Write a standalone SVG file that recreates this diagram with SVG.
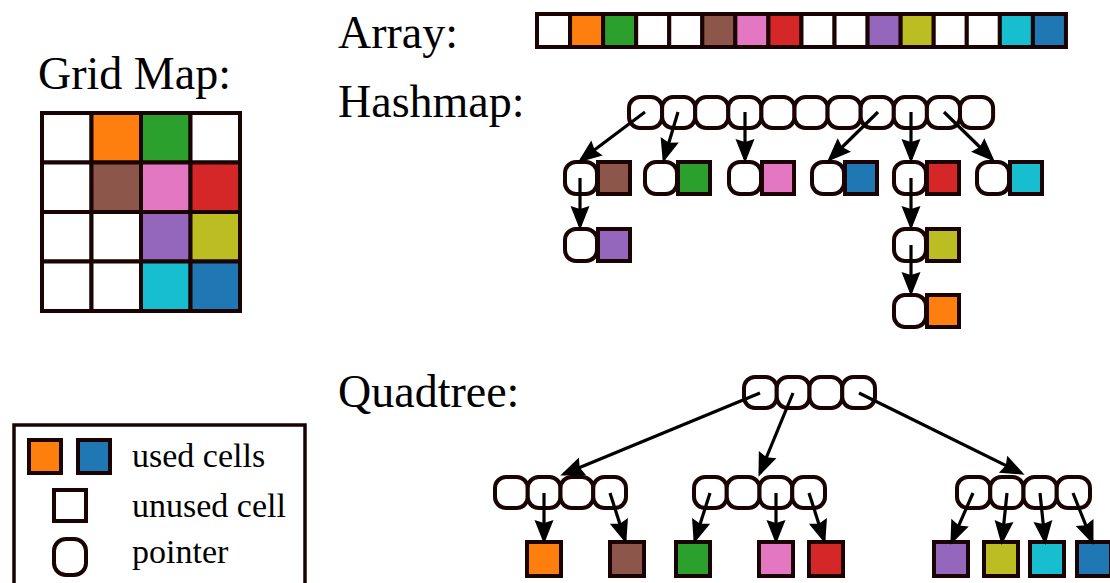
<svg xmlns="http://www.w3.org/2000/svg" width="1110" height="583" viewBox="0 0 1110 583">
<style>
.t{font-family:"Liberation Serif","Times New Roman",serif;font-size:46px;fill:#000}
.l{font-family:"Liberation Serif","Times New Roman",serif;font-size:34px;fill:#000}
.c{stroke:#1a0303;stroke-width:4;fill:#fff}
.p{stroke:#1a0303;stroke-width:4;fill:#fff}
.W{fill:#fff}.O{fill:#ff7f0e}.G{fill:#2ca02c}.B{fill:#8c564b}.P{fill:#e377c2}.R{fill:#d62728}.V{fill:#9467bd}.Y{fill:#bcbd22}.C{fill:#17becf}.U{fill:#1f77b4}
.a{stroke:#000;stroke-width:3.2;fill:none}
</style>
<defs>
<marker id="ah" markerUnits="userSpaceOnUse" markerWidth="24" markerHeight="20" viewBox="0 0 24 20" refX="20" refY="10" orient="auto" overflow="visible">
<path d="M24 10 L0 0.5 L3 10 L0 19.5 Z" fill="#000"/>
</marker>
</defs>
<rect width="1110" height="583" fill="#fff"/>

<g id="titles">
<text class="t" x="338" y="48">Array:</text>
<text class="t" x="338" y="117">Hashmap:</text>
<text class="t" x="338" y="407">Quadtree:</text>
<text class="t" x="38" y="89">Grid Map:</text>
</g>

<g id="gridmap">
<rect class="c W" x="42" y="113" width="49.5" height="49.5"/>
<rect class="c O" x="91.5" y="113" width="49.5" height="49.5"/>
<rect class="c G" x="141" y="113" width="49.5" height="49.5"/>
<rect class="c W" x="190.5" y="113" width="49.5" height="49.5"/>
<rect class="c W" x="42" y="162.5" width="49.5" height="49.5"/>
<rect class="c B" x="91.5" y="162.5" width="49.5" height="49.5"/>
<rect class="c P" x="141" y="162.5" width="49.5" height="49.5"/>
<rect class="c R" x="190.5" y="162.5" width="49.5" height="49.5"/>
<rect class="c W" x="42" y="212" width="49.5" height="49.5"/>
<rect class="c W" x="91.5" y="212" width="49.5" height="49.5"/>
<rect class="c V" x="141" y="212" width="49.5" height="49.5"/>
<rect class="c Y" x="190.5" y="212" width="49.5" height="49.5"/>
<rect class="c W" x="42" y="261.5" width="49.5" height="49.5"/>
<rect class="c W" x="91.5" y="261.5" width="49.5" height="49.5"/>
<rect class="c C" x="141" y="261.5" width="49.5" height="49.5"/>
<rect class="c U" x="190.5" y="261.5" width="49.5" height="49.5"/>
</g>

<g id="array">
<rect class="c W" x="537" y="14" width="33.06" height="33"/>
<rect class="c O" x="570.06" y="14" width="33.06" height="33"/>
<rect class="c G" x="603.12" y="14" width="33.06" height="33"/>
<rect class="c W" x="636.18" y="14" width="33.06" height="33"/>
<rect class="c W" x="669.24" y="14" width="33.06" height="33"/>
<rect class="c B" x="702.3" y="14" width="33.06" height="33"/>
<rect class="c P" x="735.36" y="14" width="33.06" height="33"/>
<rect class="c R" x="768.42" y="14" width="33.06" height="33"/>
<rect class="c W" x="801.48" y="14" width="33.06" height="33"/>
<rect class="c W" x="834.54" y="14" width="33.06" height="33"/>
<rect class="c V" x="867.6" y="14" width="33.06" height="33"/>
<rect class="c Y" x="900.66" y="14" width="33.06" height="33"/>
<rect class="c W" x="933.72" y="14" width="33.06" height="33"/>
<rect class="c W" x="966.78" y="14" width="33.06" height="33"/>
<rect class="c C" x="999.84" y="14" width="33.06" height="33"/>
<rect class="c U" x="1032.9" y="14" width="33.06" height="33"/>
</g>

<g id="hash-table">
<rect class="p" x="629" y="97" width="33.1" height="31" rx="11"/>
<rect class="p" x="662.1" y="97" width="33.1" height="31" rx="11"/>
<rect class="p" x="695.2" y="97" width="33.1" height="31" rx="11"/>
<rect class="p" x="728.3" y="97" width="33.1" height="31" rx="11"/>
<rect class="p" x="761.4" y="97" width="33.1" height="31" rx="11"/>
<rect class="p" x="794.5" y="97" width="33.1" height="31" rx="11"/>
<rect class="p" x="827.6" y="97" width="33.1" height="31" rx="11"/>
<rect class="p" x="860.7" y="97" width="33.1" height="31" rx="11"/>
<rect class="p" x="893.8" y="97" width="33.1" height="31" rx="11"/>
<rect class="p" x="926.9" y="97" width="33.1" height="31" rx="11"/>
<rect class="p" x="960" y="97" width="33.1" height="31" rx="11"/>
</g>

<g id="hash-brown"><rect class="c B" x="598" y="162" width="32" height="32"/><rect class="p" x="565" y="162" width="32" height="32" rx="11"/></g>
<g id="hash-green"><rect class="c G" x="678" y="162" width="32" height="32"/><rect class="p" x="645" y="162" width="32" height="32" rx="11"/></g>
<g id="hash-pink"><rect class="c P" x="762" y="162" width="32" height="32"/><rect class="p" x="729" y="162" width="32" height="32" rx="11"/></g>
<g id="hash-blue"><rect class="c U" x="845" y="162" width="32" height="32"/><rect class="p" x="812" y="162" width="32" height="32" rx="11"/></g>
<g id="hash-red"><rect class="c R" x="927" y="162" width="32" height="32"/><rect class="p" x="894" y="162" width="32" height="32" rx="11"/></g>
<g id="hash-cyan"><rect class="c C" x="1010" y="162" width="32" height="32"/><rect class="p" x="977" y="162" width="32" height="32" rx="11"/></g>
<g id="hash-purple"><rect class="c V" x="598" y="229" width="32" height="32"/><rect class="p" x="565" y="229" width="32" height="32" rx="11"/></g>
<g id="hash-olive"><rect class="c Y" x="927" y="229" width="32" height="32"/><rect class="p" x="894" y="229" width="32" height="32" rx="11"/></g>
<g id="hash-orange"><rect class="c O" x="927" y="295" width="32" height="32"/><rect class="p" x="894" y="295" width="32" height="32" rx="11"/></g>

<g id="qt-root">
<rect class="p" x="744" y="377" width="32.75" height="31" rx="11"/>
<rect class="p" x="776.75" y="377" width="32.75" height="31" rx="11"/>
<rect class="p" x="809.5" y="377" width="32.75" height="31" rx="11"/>
<rect class="p" x="842.25" y="377" width="32.75" height="31" rx="11"/>
</g>
<g id="qt-left">
<rect class="p" x="495" y="477" width="32.75" height="31" rx="11"/>
<rect class="p" x="527.75" y="477" width="32.75" height="31" rx="11"/>
<rect class="p" x="560.5" y="477" width="32.75" height="31" rx="11"/>
<rect class="p" x="593.25" y="477" width="32.75" height="31" rx="11"/>
</g>
<g id="qt-mid">
<rect class="p" x="694" y="477" width="32.75" height="31" rx="11"/>
<rect class="p" x="726.75" y="477" width="32.75" height="31" rx="11"/>
<rect class="p" x="759.5" y="477" width="32.75" height="31" rx="11"/>
<rect class="p" x="792.25" y="477" width="32.75" height="31" rx="11"/>
</g>
<g id="qt-right">
<rect class="p" x="957" y="477" width="33.25" height="31" rx="11"/>
<rect class="p" x="990.25" y="477" width="33.25" height="31" rx="11"/>
<rect class="p" x="1023.5" y="477" width="33.25" height="31" rx="11"/>
<rect class="p" x="1056.75" y="477" width="33.25" height="31" rx="11"/>
</g>
<g id="qt-leaves">
<rect id="leaf-orange" class="c O" x="527" y="542" width="34" height="34"/>
<rect id="leaf-brown" class="c B" x="610" y="542" width="34" height="34"/>
<rect id="leaf-green" class="c G" x="676" y="542" width="34" height="34"/>
<rect id="leaf-pink" class="c P" x="759" y="542" width="34" height="34"/>
<rect id="leaf-red" class="c R" x="809" y="542" width="34" height="34"/>
<rect id="leaf-purple" class="c V" x="934" y="542" width="34" height="34"/>
<rect id="leaf-olive" class="c Y" x="984" y="542" width="34" height="34"/>
<rect id="leaf-cyan" class="c C" x="1030" y="542" width="34" height="34"/>
<rect id="leaf-blue" class="c U" x="1077" y="542" width="34" height="34"/>
</g>

<g id="legend">
<rect x="14" y="425" width="291" height="170" fill="none" stroke="#1a0303" stroke-width="3.5"/>
<rect class="c O" x="29" y="440" width="32" height="33"/>
<rect class="c U" x="78" y="440" width="32" height="33"/>
<rect class="c W" x="54" y="490" width="32" height="31"/>
<rect class="p" x="54" y="539" width="32" height="36" rx="12"/>
<text class="l" x="132" y="467">used cells</text>
<text class="l" x="132" y="517">unused cell</text>
<text class="l" x="132" y="563">pointer</text>
</g>

<g id="connectors" marker-end="url(#ah)">
<line class="a" x1="645" y1="112" x2="581" y2="160" marker-end="url(#ah)"/>
<line class="a" x1="678" y1="112" x2="664" y2="159" marker-end="url(#ah)"/>
<line class="a" x1="745" y1="112" x2="745" y2="159" marker-end="url(#ah)"/>
<line class="a" x1="878" y1="112" x2="830" y2="159" marker-end="url(#ah)"/>
<line class="a" x1="911" y1="112" x2="911" y2="159" marker-end="url(#ah)"/>
<line class="a" x1="944" y1="112" x2="992" y2="159" marker-end="url(#ah)"/>
<line class="a" x1="580" y1="178" x2="580" y2="226" marker-end="url(#ah)"/>
<line class="a" x1="911" y1="178" x2="911" y2="226" marker-end="url(#ah)"/>
<line class="a" x1="911" y1="245" x2="911" y2="292" marker-end="url(#ah)"/>
<line class="a" x1="760" y1="393" x2="564" y2="474" marker-end="url(#ah)"/>
<line class="a" x1="793" y1="393" x2="760" y2="473" marker-end="url(#ah)"/>
<line class="a" x1="859" y1="393" x2="1021" y2="473" marker-end="url(#ah)"/>
<line class="a" x1="544" y1="493" x2="544" y2="540" marker-end="url(#ah)"/>
<line class="a" x1="610" y1="493" x2="625" y2="540" marker-end="url(#ah)"/>
<line class="a" x1="710" y1="493" x2="695" y2="540" marker-end="url(#ah)"/>
<line class="a" x1="776" y1="493" x2="776" y2="540" marker-end="url(#ah)"/>
<line class="a" x1="809" y1="493" x2="824" y2="540" marker-end="url(#ah)"/>
<line class="a" x1="973" y1="493" x2="952" y2="541" marker-end="url(#ah)"/>
<line class="a" x1="1007" y1="493" x2="1002" y2="541" marker-end="url(#ah)"/>
<line class="a" x1="1040" y1="493" x2="1045" y2="541" marker-end="url(#ah)"/>
<line class="a" x1="1073" y1="493" x2="1092" y2="541" marker-end="url(#ah)"/>
</g>
</svg>
